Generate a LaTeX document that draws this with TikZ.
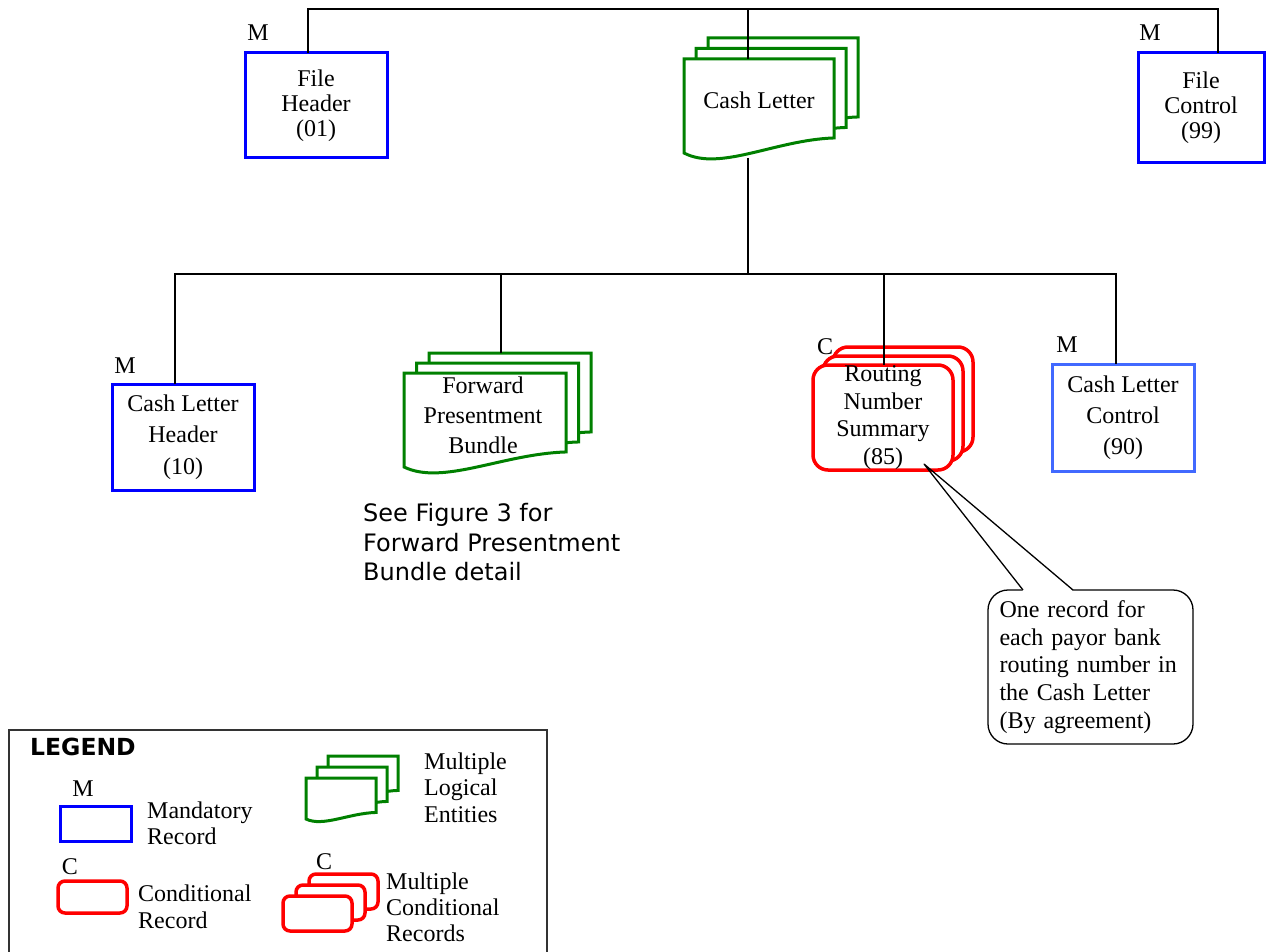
\documentclass[tikz,border=0pt]{standalone}
\usepackage{fontspec}
\setmainfont{Liberation Serif}
\newfontfamily\verdfont{DejaVu Sans}
\usetikzlibrary{calc}
\definecolor{recblue}{HTML}{0000FF}
\definecolor{ctlblue}{HTML}{4169FF}
\definecolor{docgreen}{HTML}{008000}
\definecolor{condred}{HTML}{FF0000}
\definecolor{framegray}{HTML}{333333}

\tikzset{
  tx/.style={font=\fontsize{24}{#1}\selectfont}, tx/.default=25,
  wire/.style={black,line width=1.3pt},
  mandrec/.style={draw=recblue,line width=3pt,fill=white,inner sep=0pt,outer sep=0pt,align=center},
  ctlrec/.style={mandrec,draw=ctlblue},
  condline/.style={draw=condred,line width=3.5pt},
  condrec/.style={condline,fill=white,rounded corners=15pt,inner sep=0pt,outer sep=0pt,align=center},
  docline/.style={draw=docgreen,line width=3pt,fill=white},
  docspot/.style={inner sep=0pt,outer sep=0pt},
  tag/.style={tx,inner sep=0pt},
  notebox/.style={draw,line width=1.3pt,rounded corners=20pt,inner sep=0pt,outer sep=0pt},
  keytext/.style={tx=#1,anchor=west,align=left,inner sep=0pt}
}

% one page of a document stack: left, top, right, bottom-left (px)
\newcommand\docpage[4]{%
  \filldraw[docline] (#1,#2) -- (#3,#2) -- ({#3},{(#4)-0.16*((#4)-(#2))})
    .. controls ({(#1)+0.61*((#3)-(#1))},{(#4)-0.14*((#4)-(#2))})
    and ({(#1)+0.24*((#3)-(#1))},{(#4)+0.2*((#4)-(#2))}) .. (#1,#4) -- cycle;}

\begin{document}
\begin{tikzpicture}[x=1pt,y=-1pt]
  \useasboundingbox (0,0) rectangle (1266,952);
  \clip (0,0) rectangle (1266,952);

  % ---- file level ----
  \node[mandrec,tx,minimum width=142pt,minimum height=105pt] (fh) at (316,105.5)
       {File\\Header\\(01)};
  \node[mandrec,tx,minimum width=126pt,minimum height=110pt] (fc) at (1201,108)
       {File\\Control\\(99)};
  \foreach \s in {2,1,0}
    \docpage{684+12*\s}{59-10.5*\s}{834+12*\s}{153-10.5*\s};
  \node[docspot,minimum width=150pt,minimum height=94pt] (cl) at (759,106) {};
  \node[tx] (cl-t) at ([yshift=6pt]cl.center) {Cash Letter};

  % ---- cash letter level ----
  \node[mandrec,tx=31.5,minimum width=142pt,minimum height=106pt] (clh) at (183,437)
       {Cash Letter\\Header\\(10)};
  \foreach \s in {2,1,0}
    \docpage{404+12.5*\s}{373-10*\s}{566+12.5*\s}{467-10*\s};
  \node[docspot,minimum width=162pt,minimum height=94pt] (fpb) at (485,420) {};
  \node[tx=30,align=center] (fpb-t) at ([shift={(-2,-5)}]fpb.center)
       {Forward\\Presentment\\Bundle};
  \foreach \s in {2,1}
    \draw[condline,fill=white,rounded corners=15pt] (813+10*\s,365-9*\s) rectangle ++(140,105);
  \node[condrec,tx=27.7,minimum width=140pt,minimum height=105pt] (rns) at (883,417.5)
       {Routing\\Number\\Summary\\(85)};
  \node[ctlrec,tx=31,minimum width=142pt,minimum height=107pt] (clc) at (1123,417.5)
       {Cash Letter\\Control\\(90)};

  % ---- M / C tags ----
  \node[tag] (fh-m)  at ([shift={(13,-20)}]fh.north west)  {M};
  \node[tag] (fc-m)  at ([shift={(12,-20)}]fc.north west)  {M};
  \node[tag] (clh-m) at ([shift={(13,-18)}]clh.north west) {M};
  \node[tag] (rns-c) at ([shift={(12,-18)}]rns.north west) {C};
  \node[tag] (clc-m) at ([shift={(15,-19)}]clc.north west) {M};

  % ---- tree lines ----
  \coordinate (topbar) at (748,9);
  \coordinate (midbar) at (748,274);
  \draw[wire] ([xshift=-8pt]fh.north) |- (topbar) -| ([xshift=17pt]fc.north);
  \draw[wire] (topbar) -- ([xshift=-11pt]cl.north);
  \draw[wire] ([xshift=-11pt,yshift=-5pt]cl.south) -- (midbar);
  \draw[wire] ([xshift=-8pt]clh.north) |- (midbar) -| ([xshift=-7pt]clc.north);
  \draw[wire] ([xshift=16pt,yshift=20pt]fpb.north) |- (midbar);
  \draw[wire] ([xshift=1pt]rns.north) |- (midbar);

  % ---- notes ----
  \node[font=\verdfont\fontsize{24}{29.5}\selectfont,anchor=west,align=left,inner sep=0pt]
       (fpb-see) at (363,542.5) {See Figure 3 for\\Forward Presentment\\Bundle detail};
  \node[notebox,tx=27.8,minimum width=205pt,minimum height=154pt,text width=182pt,align=left]
       (note) at (1090.5,667)
       {One record for\\each payor bank\\routing number in\\the Cash Letter\\(By agreement)};
  \coordinate (tip) at (924,464);
  \coordinate (nb1) at ([xshift=-67.5pt]note.north);
  \coordinate (nb2) at ([xshift=-17.5pt]note.north);
  \fill[white] ([yshift=-1pt]nb1) -- ($(nb1)!0.1!(tip)$) -- ($(nb2)!0.1!(tip)$)
        -- ([yshift=-1pt]nb2) -- cycle;
  \draw[wire,line join=round] (nb1) -- (tip) -- (nb2);

  % ---- legend ----
  \draw[framegray,line width=1.5pt] (9,730) rectangle (547,960);
  \node[font=\verdfont\bfseries\fontsize{23.5}{25}\selectfont,anchor=west,inner sep=0pt]
       (lg-title) at (30,747) {LEGEND};
  \node[mandrec,minimum width=71pt,minimum height=35pt] (lg-m) at (95.5,823.5) {};
  \node[tag] (lg-m-t) at ([shift={(23,-17)}]lg-m.north west) {M};
  \node[keytext=26] (lg-m-l) at (147,823) {Mandatory\\Record};
  \node[condrec,rounded corners=7pt,minimum width=69pt,minimum height=32pt] (lg-c) at (92.5,897) {};
  \node[tag] (lg-c-t) at ([shift={(12,-14)}]lg-c.north west) {C};
  \node[keytext=27] (lg-c-l) at (138,906.5) {Conditional\\Record};
  \foreach \s in {2,1,0}
    \docpage{306+11*\s}{778-11*\s}{376+11*\s}{819-11*\s};
  \node[keytext=26.5] (lg-d-l) at (424,787.5) {Multiple\\Logical\\Entities};
  \foreach \s in {2,1,0}
    \draw[condline,fill=white,rounded corners=7pt] (283+13*\s,896-11*\s) rectangle ++(69,35);
  \node[tag] (lg-mc-t) at (324,862) {C};
  \node[keytext=26] (lg-mc-l) at (386,907) {Multiple\\Conditional\\Records};

\end{tikzpicture}
\end{document}
